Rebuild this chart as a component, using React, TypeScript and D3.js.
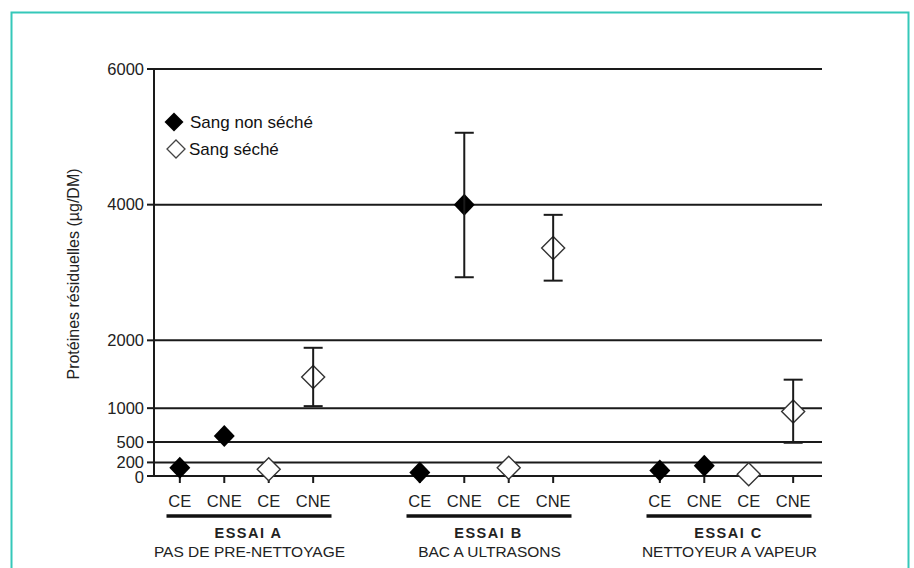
import React from 'react';
import { scaleBand, scaleLinear, scalePoint } from 'd3';

const groups = ['ESSAI A', 'ESSAI B', 'ESSAI C'];
const subtitles = ['PAS DE PRE-NETTOYAGE', 'BAC A ULTRASONS', 'NETTOYEUR A VAPEUR'];
const categories = ['CE', 'CNE', 'CE', 'CNE'];
// per group: [non séché CE, non séché CNE, séché CE, séché CNE]
const dried = [false, false, true, true];
const values = [
  [120, 590, 100, 1460],
  [50, 4000, 120, 3360],
  [80, 150, 25, 950],
];
const errLow: (number | null)[][] = [
  [null, null, null, 1030],
  [null, 2930, null, 2880],
  [null, null, null, 490],
];
const errHigh: (number | null)[][] = [
  [null, null, null, 1890],
  [null, 5060, null, 3850],
  [null, null, null, 1420],
];
const yTicks = [0, 200, 500, 1000, 2000, 4000, 6000];
const legendLabels = ['Sang non séché', 'Sang séché'];

const W = 914;
const H = 568;
const left = 154;
const right = 822;

const diamond = (cx: number, cy: number, hw: number, hh: number) =>
  `M${cx},${cy - hh}L${cx + hw},${cy}L${cx},${cy + hh}L${cx - hw},${cy}Z`;

export default function App() {
  const y = scaleLinear().domain([0, 6000]).range([476, 69]);
  const gx = scaleBand<string>().domain(groups).range([126.5, 846.5]).padding(0);
  const ix = scalePoint<number>().domain([0, 1, 2, 3]).range([0, gx.bandwidth()]).padding(1.2);
  const font = '"Liberation Sans", Arial, sans-serif';

  return (
    <svg width={W} height={H} style={{ position: 'fixed', left: 0, top: 0 }} fontFamily={font}>
      <rect x={0} y={0} width={W} height={H} fill="#fff" />
      <rect x={11.5} y={12.5} width={897} height={580} fill="none" stroke="#35c8b9" strokeWidth={2} />

      {/* gridlines + y ticks */}
      {yTicks.map(t => (
        <g key={t}>
          <line x1={left} x2={right} y1={y(t)} y2={y(t)} stroke="#1a1a1a" strokeWidth={2} />
          <line x1={left - 7} x2={left} y1={y(t)} y2={y(t)} stroke="#1a1a1a" strokeWidth={2} />
          <text x={left - 10} y={y(t) + (t === 0 ? 1.5 : 0)} dy="0.35em" textAnchor="end" fontSize={16.5} fill="#222">{t}</text>
        </g>
      ))}
      <line x1={left} x2={left} y1={y(6000)} y2={y(0)} stroke="#1a1a1a" strokeWidth={2} />

      <text transform={`translate(79,${274}) rotate(-90)`} textAnchor="middle" fontSize={16} fill="#222">
        Protéines résiduelles (µg/DM)
      </text>

      {/* legend */}
      <path d={diamond(174, 122, 9.5, 9.5)} fill="#000" />
      <text x={190} y={122} dy="0.35em" fontSize={17} fill="#111">{legendLabels[0]}</text>
      <path d={diamond(176, 149, 9, 9)} fill="#fff" stroke="#444" strokeWidth={1.3} />
      <text x={189} y={149} dy="0.35em" fontSize={17} fill="#111">{legendLabels[1]}</text>

      {groups.map((g, gi) => {
        const x0 = gx(g)!;
        const cx = x0 + gx.bandwidth() / 2;
        return (
          <g key={g}>
            {categories.map((c, i) => {
              const x = x0 + ix(i)!;
              const v = values[gi][i];
              const lo = errLow[gi][i];
              const hi = errHigh[gi][i];
              return (
                <g key={i}>
                  <line x1={x} x2={x} y1={y(0)} y2={y(0) + 7} stroke="#1a1a1a" strokeWidth={2} />
                  <text x={x} y={501} dy="0.35em" textAnchor="middle" fontSize={16.5} fill="#222">{c}</text>
                  {dried[i] ? (
                    <path d={diamond(x, y(v), 11.5, 11.5)} fill="#fff" stroke="#333" strokeWidth={1.4} />
                  ) : (
                    <path d={diamond(x, y(v), 10.5, 11)} fill="#000" />
                  )}
                  {lo !== null && hi !== null && (
                    <g stroke="#1a1a1a" strokeWidth={2}>
                      <line x1={x} x2={x} y1={y(hi)} y2={y(lo)} />
                      <line x1={x - 9.5} x2={x + 9.5} y1={y(hi)} y2={y(hi)} />
                      <line x1={x - 9.5} x2={x + 9.5} y1={y(lo)} y2={y(lo)} />
                    </g>
                  )}
                </g>
              );
            })}
            <line x1={cx - 80} x2={cx + 85} y1={516} y2={516} stroke="#111" strokeWidth={3.5} />
            <text x={cx + 2} y={533} dy="0.35em" textAnchor="middle" fontSize={14.5} fontWeight="bold" letterSpacing={1.5} fill="#222">{g}</text>
            <text x={cx + 3} y={552} dy="0.35em" textAnchor="middle" fontSize={15.5} fill="#222">{subtitles[gi]}</text>
          </g>
        );
      })}
    </svg>
  );
}
